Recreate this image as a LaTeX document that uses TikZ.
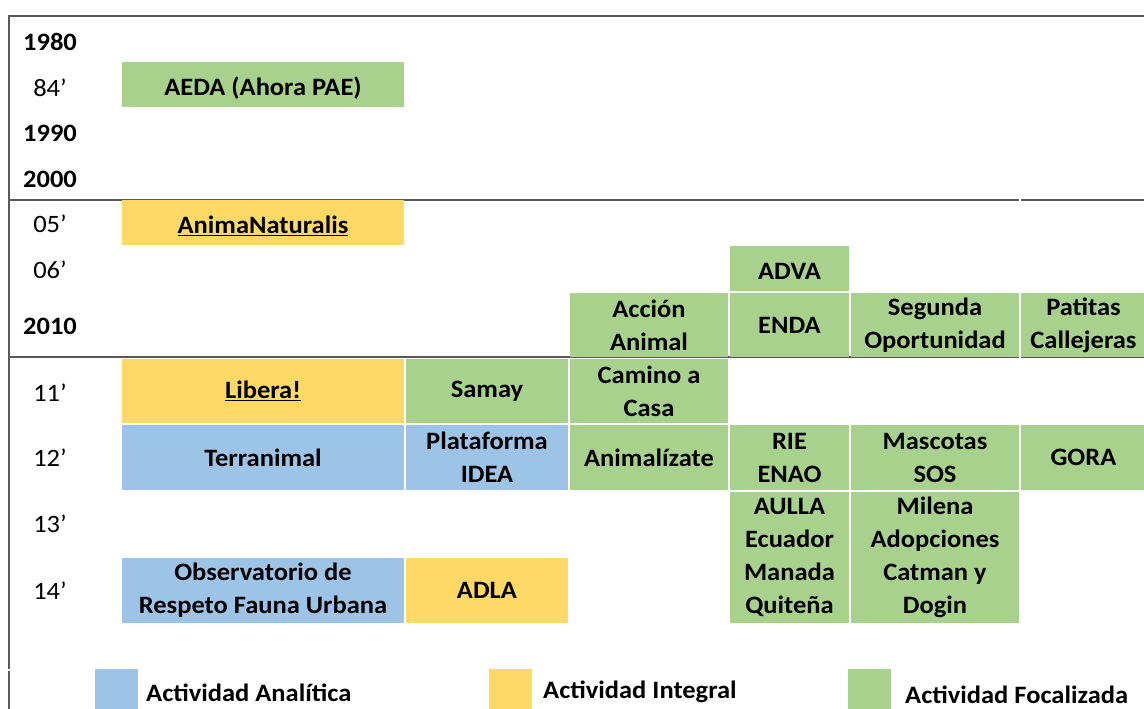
\documentclass[tikz,border=0pt]{standalone}
\usepackage{fontspec}
\setmainfont{Carlito}[FakeStretch=1.06]
\definecolor{cgreen}{HTML}{A9D18E}
\definecolor{cyellow}{HTML}{FFD966}
\definecolor{cblue}{HTML}{9DC3E6}
\definecolor{cline}{HTML}{595959}
\begin{document}
\begin{tikzpicture}[x=1pt,y=-1pt,
  txt/.style={font=\fontsize{25}{33}\selectfont},
  cell/.style 2 args={anchor=north west, inner sep=0pt, outer sep=0pt, align=center,
    minimum width=#1pt, minimum height=#2pt, font=\fontsize{25}{33}\selectfont\bfseries},
  gcell/.style 2 args={cell={#1}{#2}, fill=cgreen},
  ycell/.style 2 args={cell={#1}{#2}, fill=cyellow},
  bcell/.style 2 args={cell={#1}{#2}, fill=cblue},
  low/.style={text height=22pt, text depth=0pt},
  year/.style={txt, anchor=center, inner sep=0pt},
  byear/.style={year, font=\fontsize{25}{33}\selectfont\bfseries},
  rule/.style={draw=cline, line width=2pt},
  legsq/.style={anchor=north west, inner sep=0pt, minimum width=43pt, minimum height=40pt},
  legtxt/.style={anchor=west, inner sep=0pt, font=\fontsize{25}{33}\selectfont\bfseries},
]
\useasboundingbox (0,0) rectangle (1144,709);
% table rules
\coordinate (tl) at (9,16);
\coordinate (tr) at (1144,16);
\coordinate (bl) at (9,669);
\coordinate (bl2) at (9,671);
\coordinate (bb) at (9,709);
\draw[rule] (tr) -- (tl) -- (bl);
\draw[rule] (bl2) -- (bb);
\draw[rule] (9,200) -- (1019,200);
\draw[rule] (1021,200) -- (1144,200);
\draw[rule] (9,357) -- (1019,357);
\draw[rule] (1021,357) -- (1144,357);
% year labels
\node[byear] (y1980) at (50,42) {1980};
\node[year]  (y84)   at (50,88) {84’};
\node[byear] (y1990) at (50,133) {1990};
\node[byear] (y2000) at (50,179) {2000};
\node[year]  (y05)   at (50,224) {05’};
\node[year]  (y06)   at (50,270) {06’};
\node[byear] (y2010) at (50,326) {2010};
\node[year]  (y11)   at (50,393) {11’};
\node[year]  (y12)   at (50,458) {12’};
\node[year]  (y13)   at (50,524) {13’};
\node[year]  (y14)   at (50,591) {14’};
% cells
\node[gcell={282}{45}, low] (aeda) at (122,62) {AEDA (Ahora PAE)};
\node[ycell={282}{45}, low] (anima) at (122,200) {\underline{AnimaNaturalis}};
\node[gcell={119}{45}, low] (adva) at (730,246) {ADVA};
\node[gcell={158}{64}] (accion) at (570,293) {Acción\\Animal};
\node[gcell={119}{64}] (enda) at (730,293) {ENDA};
\node[gcell={168}{64}] (segunda) at (851,293) {Segunda\\Oportunidad};
\node[gcell={125}{64}] (patitas) at (1021,293) {Patitas\\Callejeras};
\node[ycell={282}{64}] (libera) at (122,359) {\underline{Libera!}};
\node[gcell={162}{64}] (samay) at (406,359) {Samay};
\node[gcell={158}{64}] (camino) at (570,359) {Camino a\\Casa};
\node[bcell={282}{65}] (terranimal) at (122,425) {Terranimal};
\node[bcell={162}{65}] (idea) at (406,425) {Plataforma\\IDEA};
\node[gcell={158}{65}] (animalizate) at (570,425) {Animalízate};
\node[gcell={119}{65}] (rie) at (730,425) {RIE\\ENAO};
\node[gcell={168}{65}] (mascotas) at (851,425) {Mascotas\\SOS};
\node[gcell={125}{65}] (gora) at (1021,425) {GORA};
\node[gcell={119}{131}] (aulla) at (730,492) {AULLA\\Ecuador\\Manada\\Quiteña};
\node[gcell={168}{131}] (milena) at (851,492) {Milena\\Adopciones\\Catman y\\Dogin};
\node[bcell={282}{65}] (observatorio) at (122,558) {Observatorio de\\Respeto Fauna Urbana};
\node[ycell={162}{65}] (adla) at (406,558) {ADLA};
% legend
\node[legsq, fill=cblue] (lb) at (95,669) {};
\node[legtxt] (lbt) at (146,693) {Actividad Analítica};
\node[legsq, fill=cyellow] (ly) at (489,669) {};
\node[legtxt] (lyt) at (543,692) {Actividad Integral};
\node[legsq, fill=cgreen] (lg) at (848,669) {};
\node[legtxt] (lgt) at (905,695) {Actividad Focalizada};
\end{tikzpicture}
\end{document}
